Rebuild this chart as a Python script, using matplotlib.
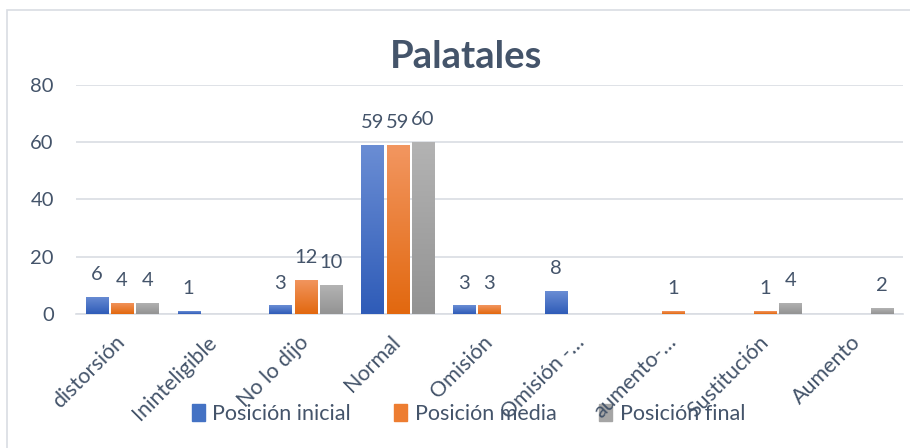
import matplotlib
matplotlib.use("Agg")
import matplotlib.pyplot as plt
import numpy as np
from matplotlib.colors import LinearSegmentedColormap
from matplotlib.patches import Rectangle

plt.rcParams['font.family'] = ['Lato', 'DejaVu Sans']

categories = ["distorsión", "Ininteligible", "No lo dijo", "Normal", "Omisión",
              "Omisión -…", "aumento-…", "Sustitución", "Aumento"]
series_names = ["Posición inicial", "Posición media", "Posición final"]
inicial = [6, 1, 3, 59, 3, 8, 0, 0, 0]
media = [4, 0, 12, 59, 3, 0, 1, 1, 0]
final = [4, 0, 10, 60, 0, 0, 0, 4, 2]
yticks = [0, 20, 40, 60, 80]

series = [inicial, media, final]
base_colors = ["#4472C4", "#ED7D31", "#A5A5A5"]
grad = [("#6A8DD4", "#2F5CB8"), ("#F29660", "#E2680F"), ("#B3B3B3", "#939393")]
text_color = "#44546A"

fig = plt.figure(figsize=(9.1, 4.48), dpi=100)
# chart border
fig.patches.append(Rectangle((7 / 910, -0.01), 2, 1.01 - 10 / 448,
                             transform=fig.transFigure, fill=False,
                             edgecolor="#D9DDE3", linewidth=1.2))
ax = fig.add_axes([76 / 910, 1 - 314 / 448, (903 - 76) / 910, (314 - 85) / 448])
ax.patch.set_alpha(0)

x = np.arange(len(categories))
width = 0.24
step = 0.275
for i, (vals, col, (ctop, cbot), name) in enumerate(zip(series, base_colors, grad, series_names)):
    offs = (i - 1) * step
    bars = ax.bar(x + offs, vals, width, color=col, label=name, zorder=2)
    cmap = LinearSegmentedColormap.from_list("g%d" % i, [cbot, ctop])
    for b, v in zip(bars, vals):
        if v <= 0:
            continue
        x0, y0, w, h = b.get_x(), b.get_y(), b.get_width(), b.get_height()
        img = np.linspace(0, 1, 100).reshape(-1, 1)
        im = ax.imshow(img, extent=[x0, x0 + w, y0, y0 + h], origin="lower",
                       cmap=cmap, aspect="auto", zorder=3)
        im.set_clip_path(b)
        b.set_alpha(0)
        ax.annotate(str(v), (x0 + w / 2, y0 + h), xytext=(0, 10),
                    textcoords="offset points", ha="center", va="bottom",
                    fontsize=14.5, color=text_color, zorder=4)

ax.set_xlim(-0.5, len(categories) - 0.5)
ax.set_ylim(0, 80)
ax.set_yticks(yticks)
ax.set_yticklabels([str(t) for t in yticks])
ax.yaxis.grid(True, color="#D9DDE3", linewidth=1.2, zorder=0)
ax.set_axisbelow(True)
for s in ["top", "right", "left"]:
    ax.spines[s].set_visible(False)
ax.spines["bottom"].set_color("#D9DDE3")
ax.spines["bottom"].set_linewidth(1.2)
ax.spines["bottom"].set_zorder(1)
ax.tick_params(axis="both", length=0, labelsize=14.5, labelcolor=text_color)
ax.tick_params(axis="y", pad=16)
ax.set_xticks(x)
ax.set_xticklabels(categories, rotation=45, ha="right", va="center",
                   rotation_mode="anchor", fontsize=15.5)
ax.tick_params(axis="x", pad=18)
ax.set_xlim(-0.5, len(categories) - 0.5)
ax.set_ylim(0, 80)
ax.autoscale(False)

fig.text(0.512, 1 - 57 / 448, "Palatales", ha="center", va="center",
         fontsize=27.5, fontweight="bold", color=text_color)

handles = [Rectangle((0, 0), 1, 1, color=c) for c in base_colors]
leg = fig.legend(handles, series_names, loc="center", bbox_to_anchor=(0.515, 1 - 414 / 448),
                 ncol=3, frameon=False, fontsize=15.5, handlelength=0.6, handleheight=0.8,
                 handletextpad=0.35, columnspacing=2.0)
leg.set_zorder(-1)
for t in leg.get_texts():
    t.set_color(text_color)

fig.savefig("out.png", dpi=100)
